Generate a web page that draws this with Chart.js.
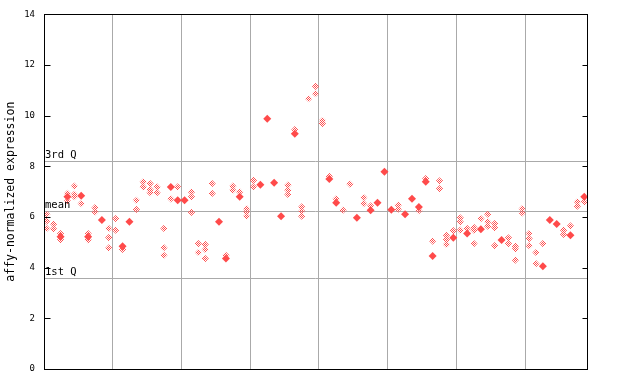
<!DOCTYPE html>
<html>
<head>
<meta charset="utf-8">
<script src="https://cdn.jsdelivr.net/npm/chart.js@4/dist/chart.umd.min.js"></script>
<style>
  html, body { margin: 0; padding: 0; background: #fff; }
  #wrap { width: 640px; height: 384px; }
</style>
</head>
<body>
<div id="wrap"><canvas id="exprChart" width="640" height="384"></canvas></div>
<script>
// values per sample (index = sample position)
const openValues = [
  [6.11, 5.84, 5.55], [5.72, 5.53], [5.35, 5.10], [6.93, 6.63], [7.22, 6.90, 6.80],
  [6.53], [5.35, 5.10], [6.37, 6.20], [], [5.55, 5.19, 4.78],
  [5.94, 5.48], [4.72], [], [6.66, 6.30], [7.39, 7.19],
  [7.32, 7.08, 6.96], [7.19, 6.96], [5.55, 4.79, 4.49], [6.72], [7.19],
  [], [6.99, 6.80, 6.18], [4.95, 4.60], [4.92, 4.72, 4.36], [7.32, 6.93],
  [], [4.49], [7.22, 7.06], [6.99], [6.33, 6.20, 6.03],
  [7.45, 7.19], [], [], [], [],
  [7.26, 7.06, 6.89], [9.45], [6.40, 6.23, 6.03], [10.67], [11.16, 10.87],
  [9.81, 9.69], [7.61], [6.72], [6.27], [7.30],
  [], [6.77, 6.53], [6.44], [], [],
  [], [6.47, 6.31], [], [], [6.25],
  [7.52], [5.05], [7.43, 7.12], [5.28, 5.11, 4.92], [5.46],
  [5.97, 5.81, 5.48], [5.55], [5.59, 5.48, 4.95], [5.94], [6.11, 5.81, 5.64],
  [5.74, 5.58, 4.87], [], [5.18, 4.95], [4.85, 4.74, 4.30], [6.33, 6.16],
  [5.35, 5.15, 4.87], [4.60, 4.16], [4.95], [], [],
  [5.48, 5.31], [5.65], [6.60, 6.43], [6.60]
];
const solidValues = [
  [], [], [5.22], [6.80], [],
  [6.84], [5.22], [], [5.88], [],
  [], [4.85], [5.81], [], [],
  [], [], [], [7.19], [6.66],
  [6.66], [], [], [], [],
  [5.81], [4.36], [], [6.80], [],
  [], [7.27], [9.88], [7.35], [6.03],
  [], [9.29], [], [], [],
  [], [7.50], [6.56], [], [],
  [5.97], [], [6.27], [6.56], [7.79],
  [6.29], [], [6.11], [6.72], [6.40],
  [7.39], [4.46], [], [], [5.18],
  [], [5.35], [], [5.52], [],
  [], [5.09], [], [], [],
  [], [], [4.06], [5.88], [5.72],
  [], [5.28], [], [6.80]
];
const groupEdges = [9.5, 19.5, 29.5, 39.5, 49.5, 59.5, 69.5];
const qLabels = ['1st Q', 'mean', '3rd Q'];
const qValues = [3.61, 6.22, 8.23];
const yTicks = [0, 2, 4, 6, 8, 10, 12, 14];

const toPoints = (rows) => {
  const pts = [];
  rows.forEach((vals, i) => vals.forEach(v => pts.push({ x: i, y: v })));
  return pts;
};

// checkered fill for the dithered markers
const pc = document.createElement('canvas');
pc.width = 2; pc.height = 2;
const pctx = pc.getContext('2d');
pctx.fillStyle = '#ff4f4f';
pctx.fillRect(0, 0, 1, 1);
pctx.fillRect(1, 1, 1, 1);
const checker = document.getElementById('exprChart').getContext('2d').createPattern(pc, 'repeat');

const mono = "'DejaVu Sans Mono', monospace";

const frame = {
  id: 'frame',
  beforeDatasetsDraw(chart) {
    const { ctx, chartArea: a, scales: { y } } = chart;
    ctx.save();
    ctx.strokeStyle = '#aaaaaa';
    ctx.lineWidth = 1;
    qValues.forEach(v => {
      const py = Math.round(y.getPixelForValue(v)) + 0.5;
      ctx.beginPath();
      ctx.moveTo(a.left, py);
      ctx.lineTo(a.right, py);
      ctx.stroke();
    });
    ctx.restore();
  },
  afterDatasetsDraw(chart) {
    const { ctx, chartArea: a, scales: { y } } = chart;
    ctx.save();
    ctx.font = '10.5px ' + mono;
    ctx.fillStyle = '#000';
    ctx.textAlign = 'left';
    ctx.textBaseline = 'bottom';
    qValues.forEach((v, i) => {
      ctx.fillText(qLabels[i], a.left + 1, Math.round(y.getPixelForValue(v)));
    });
    // frame and inward ticks
    ctx.strokeStyle = '#000';
    ctx.lineWidth = 1;
    const l = Math.round(a.left) + 0.5, r = Math.round(a.right) + 0.5;
    const t = Math.round(a.top) + 0.5, b = Math.round(a.bottom) + 0.5;
    ctx.strokeRect(l, t, r - l, b - t);
    ctx.beginPath();
    yTicks.forEach(v => {
      const py = Math.round(y.getPixelForValue(v)) + 0.5;
      ctx.moveTo(l, py); ctx.lineTo(l + 6, py);
      ctx.moveTo(r, py); ctx.lineTo(r - 5, py);
    });
    ctx.stroke();
    ctx.restore();
  }
};

new Chart(document.getElementById('exprChart'), {
  type: 'scatter',
  data: {
    datasets: [{
      data: toPoints(openValues),
      pointStyle: 'rectRot',
      pointRadius: 3.6,
      backgroundColor: checker,
      borderWidth: 0
    }, {
      data: toPoints(solidValues),
      pointStyle: 'rectRot',
      pointRadius: 4,
      backgroundColor: '#ff4a4a',
      borderWidth: 0
    }]
  },
  options: {
    responsive: false,
    animation: false,
    events: [],
    layout: { padding: { left: 0, top: 13, right: 53, bottom: 0 } },
    plugins: { legend: { display: false }, tooltip: { enabled: false } },
    scales: {
      x: {
        type: 'linear',
        min: -0.4,
        max: 78.4,
        afterBuildTicks: (s) => { s.ticks = groupEdges.map(v => ({ value: v })); },
        afterFit: (s) => { s.height = 15; },
        ticks: { display: false },
        grid: { color: '#aaaaaa', drawTicks: false },
        border: { color: '#000' }
      },
      y: {
        min: 0,
        max: 14,
        afterBuildTicks: (s) => { s.ticks = yTicks.map(v => ({ value: v })); },
        afterFit: (s) => { s.width = 44; },
        ticks: { color: '#000', padding: 9, font: { family: mono, size: 9 } },
        grid: { display: false, drawTicks: false },
        border: { color: '#000' },
        title: {
          display: true,
          text: 'affy-normalized expression',
          color: '#000',
          font: { family: mono, size: 11.5 },
          padding: { top: 4, bottom: 4 }
        }
      }
    }
  },
  plugins: [frame]
});
</script>
</body>
</html>
